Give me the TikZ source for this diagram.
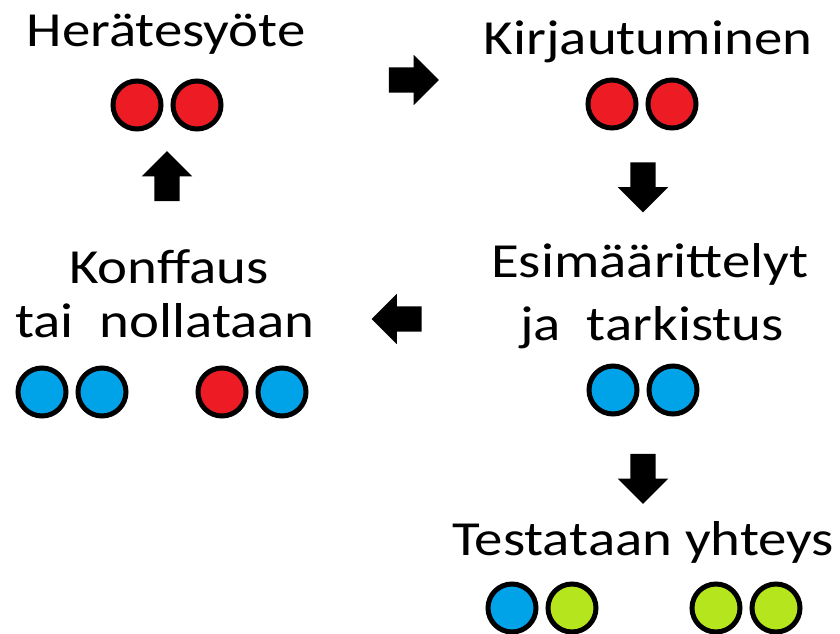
\documentclass[tikz,border=0pt]{standalone}
\usepackage{fontspec}
\setmainfont{Carlito}[FakeStretch=1.16]
\usetikzlibrary{shapes.arrows}
\definecolor{dotred}{HTML}{ED1C24}
\definecolor{dotblue}{HTML}{00A2E8}
\definecolor{dotgreen}{HTML}{B5E61D}
\tikzset{
  stage/.style ={anchor=base, inner sep=0pt, font=\fontsize{49}{54}\selectfont},
  dot/.style   ={circle, draw=black, line width=5pt, minimum size=48pt, inner sep=0pt},
  flow/.style  ={single arrow, fill=black, inner xsep=0pt, inner ysep=12.5pt,
                 minimum height=50pt, single arrow head extend=12.5pt,
                 single arrow tip angle=90},
}
% two dots side by side: name, x, y, left colour, right colour
\newcommand{\dotpair}[5]{%
  \node[dot, fill=#4] (#1-1) at (#2,#3) {};
  \node[dot, fill=#5] (#1-2) at ({#2+60},#3) {};}

\begin{document}
\begin{tikzpicture}[x=1pt,y=-1pt]
  \useasboundingbox (0,0) rectangle (840,634);
  % stage titles
  \node[stage] (herate)  at (166,47)  {Herätesyöte};
  \node[stage] (kirj)    at (648,55)  {Kirjautuminen};
  \node[stage] (konf)    at (169,283) {Konffaus};
  \node[stage] (konf2)   at (165,337) {tai\ \ nollataan};
  \node[stage] (esim)    at (650,277) {Esimäärittelyt};
  \node[stage] (esim2)   at (652,340) {ja\ \ tarkistus};
  \node[stage] (testi)   at (643,555) {Testataan yhteys};
  % state dots
  \dotpair{herdot}{137}{105}{dotred}{dotred}
  \dotpair{kirdot}{612}{104}{dotred}{dotred}
  \dotpair{konA}{42}{392}{dotblue}{dotblue}
  \dotpair{konB}{222}{392}{dotred}{dotblue}
  \dotpair{esidot}{613}{390}{dotblue}{dotblue}
  \dotpair{tesA}{512}{608}{dotblue}{dotgreen}
  \dotpair{tesB}{716}{608}{dotgreen}{dotgreen}
  % block arrows between stages
  \node[flow]             (toKirj) at (407.5,80)  {};
  \node[flow, rotate=-90] (toEsim) at (643,181)   {};
  \node[flow, rotate=180] (toKonf) at (403,319)   {};
  \node[flow, rotate=90]  (toHer)  at (167,182.5) {};
  \node[flow, rotate=-90] (toTest) at (643,472.5) {};
\end{tikzpicture}
\end{document}
